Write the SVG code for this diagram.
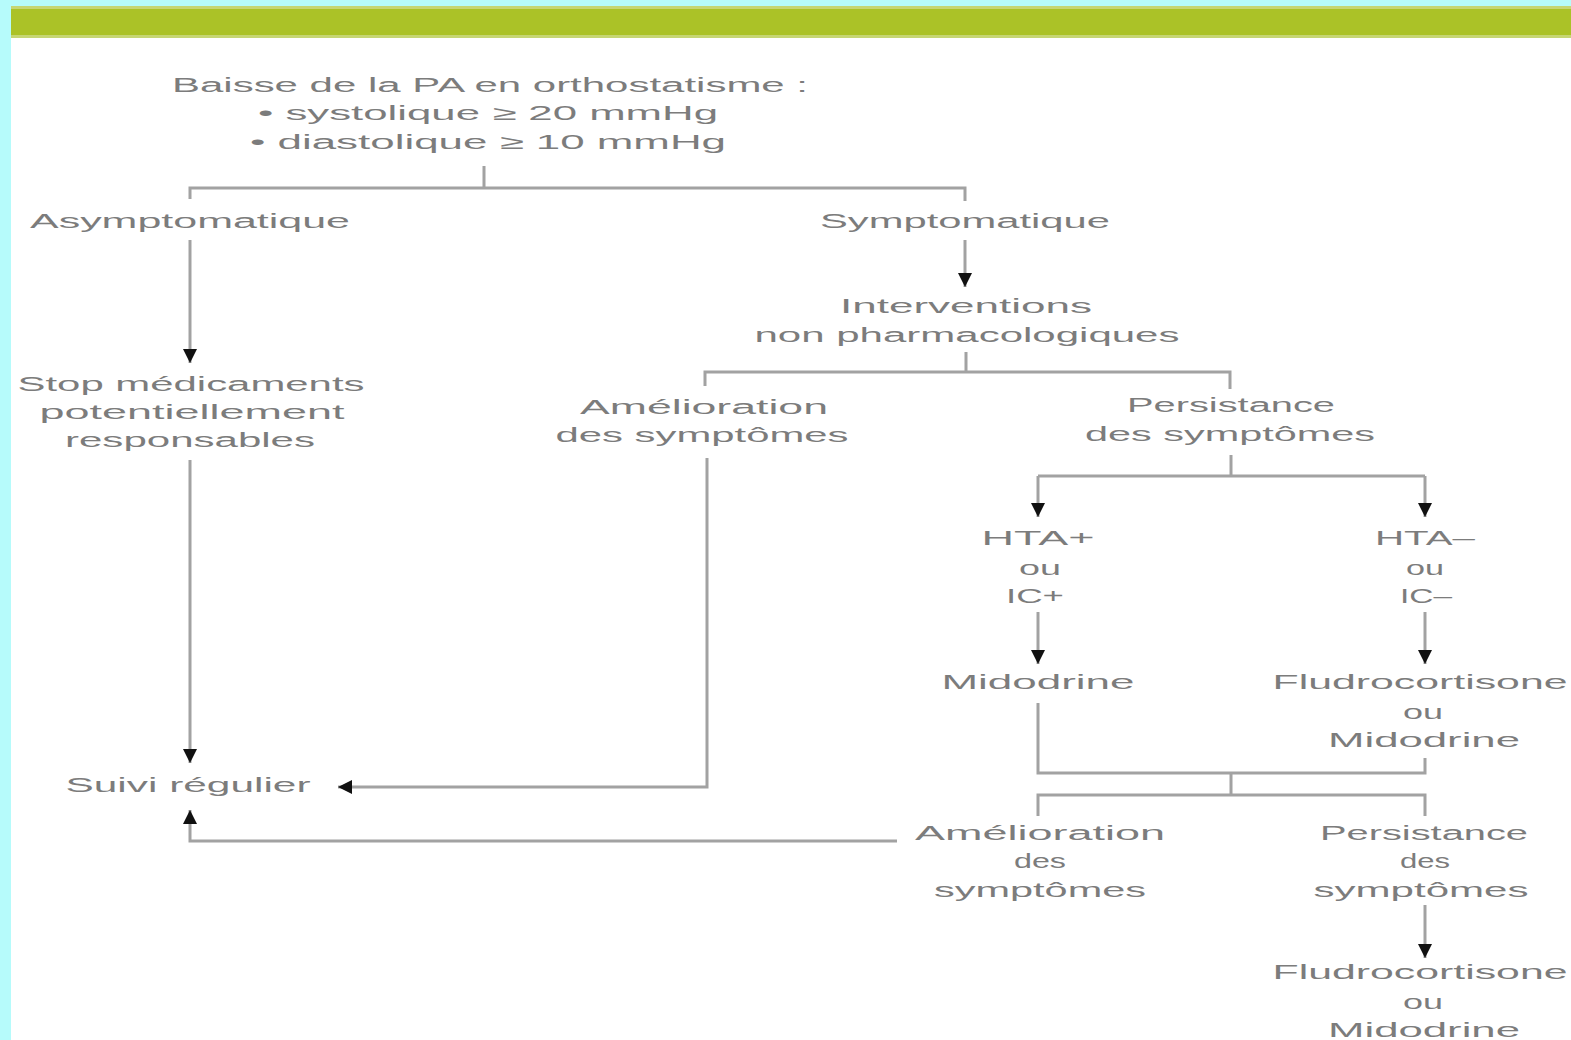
<svg xmlns="http://www.w3.org/2000/svg" width="1571" height="1040" viewBox="0 0 1571 1040">
<style>
text{font-family:"Liberation Sans",Arial,sans-serif;font-size:20px;fill:#7c7c7c;text-anchor:middle;}
.c{fill:none;stroke:#a2a2a2;stroke-width:3;}
</style>
<defs>
<marker id="ah" markerUnits="userSpaceOnUse" markerWidth="14" markerHeight="14" viewBox="0 0 12 12" refX="12" refY="6" orient="auto">
<path d="M0,0 L12,6 L0,12 Z" fill="#111"/>
</marker>
</defs>
<rect x="0" y="0" width="1571" height="1040" fill="#ffffff"/>
<rect x="0" y="0" width="1571" height="6" fill="#b6fbfb"/>
<rect x="0" y="0" width="11" height="1040" fill="#b6fbfb"/>
<rect x="11" y="6" width="1560" height="32" fill="#c6d673"/>
<rect x="11" y="9" width="1560" height="26" fill="#abc227"/>

<g id="connectors">
<path class="c" d="M484 166 V188 M190 199 V188 H965 V201"/>
<path class="c" d="M965 240 V287" marker-end="url(#ah)"/>
<path class="c" d="M190 240 V363" marker-end="url(#ah)"/>
<path class="c" d="M190 460 V763" marker-end="url(#ah)"/>
<path class="c" d="M966 352 V372 M705 386 V372 H1230 V389"/>
<path class="c" d="M707 458 V787 H338" marker-end="url(#ah)"/>
<path class="c" d="M897 841 H190 V810" marker-end="url(#ah)"/>
<path class="c" d="M1231 455 V476"/>
<path class="c" d="M1038 476 H1425"/>
<path class="c" d="M1038 476 V517" marker-end="url(#ah)"/>
<path class="c" d="M1425 476 V517" marker-end="url(#ah)"/>
<path class="c" d="M1038 612 V664" marker-end="url(#ah)"/>
<path class="c" d="M1425 612 V664" marker-end="url(#ah)"/>
<path class="c" d="M1038 703 V773 H1425 V758 M1231 773 V795 M1038 816 V795 H1425 V816"/>
<path class="c" d="M1425 905 V958" marker-end="url(#ah)"/>
</g>

<g id="n-title">
<text x="490" y="92" textLength="636" lengthAdjust="spacingAndGlyphs">Baisse de la PA en orthostatisme :</text>
<text x="488" y="120" textLength="460" lengthAdjust="spacingAndGlyphs">• systolique ≥ 20 mmHg</text>
<text x="488" y="149" textLength="476" lengthAdjust="spacingAndGlyphs">• diastolique ≥ 10 mmHg</text>
</g>
<g id="n-asympto">
<text x="190" y="228" textLength="320" lengthAdjust="spacingAndGlyphs">Asymptomatique</text>
</g>
<g id="n-sympto">
<text x="965" y="228" textLength="290" lengthAdjust="spacingAndGlyphs">Symptomatique</text>
</g>
<g id="n-interventions">
<text x="966" y="313" textLength="252" lengthAdjust="spacingAndGlyphs">Interventions</text>
<text x="967" y="342" textLength="425" lengthAdjust="spacingAndGlyphs">non pharmacologiques</text>
</g>
<g id="n-stop">
<text x="191" y="391" textLength="347" lengthAdjust="spacingAndGlyphs">Stop médicaments</text>
<text x="192" y="419" textLength="305" lengthAdjust="spacingAndGlyphs">potentiellement</text>
<text x="190" y="447" textLength="250" lengthAdjust="spacingAndGlyphs">responsables</text>
</g>
<g id="n-amelioration1">
<text x="704" y="414" textLength="248" lengthAdjust="spacingAndGlyphs">Amélioration</text>
<text x="702" y="442" textLength="293" lengthAdjust="spacingAndGlyphs">des symptômes</text>
</g>
<g id="n-persistance1">
<text x="1231" y="412" textLength="208" lengthAdjust="spacingAndGlyphs">Persistance</text>
<text x="1230" y="441" textLength="290" lengthAdjust="spacingAndGlyphs">des symptômes</text>
</g>
<g id="n-htaplus">
<text x="1038" y="545" textLength="113" lengthAdjust="spacingAndGlyphs">HTA+</text>
<text x="1040" y="575" textLength="42" lengthAdjust="spacingAndGlyphs">ou</text>
<text x="1035" y="603" textLength="58" lengthAdjust="spacingAndGlyphs">IC+</text>
</g>
<g id="n-htamoins">
<text x="1425" y="545" textLength="100" lengthAdjust="spacingAndGlyphs">HTA–</text>
<text x="1425" y="575" textLength="38" lengthAdjust="spacingAndGlyphs">ou</text>
<text x="1426" y="603" textLength="52" lengthAdjust="spacingAndGlyphs">IC–</text>
</g>
<g id="n-midodrine">
<text x="1038" y="689" textLength="193" lengthAdjust="spacingAndGlyphs">Midodrine</text>
</g>
<g id="n-fludro1">
<text x="1420" y="689" textLength="295" lengthAdjust="spacingAndGlyphs">Fludrocortisone</text>
<text x="1423" y="719" textLength="40" lengthAdjust="spacingAndGlyphs">ou</text>
<text x="1424" y="747" textLength="192" lengthAdjust="spacingAndGlyphs">Midodrine</text>
</g>
<g id="n-suivi">
<text x="188" y="792" textLength="245" lengthAdjust="spacingAndGlyphs">Suivi régulier</text>
</g>
<g id="n-amelioration2">
<text x="1040" y="840" textLength="250" lengthAdjust="spacingAndGlyphs">Amélioration</text>
<text x="1040" y="868" textLength="52" lengthAdjust="spacingAndGlyphs">des</text>
<text x="1040" y="897" textLength="212" lengthAdjust="spacingAndGlyphs">symptômes</text>
</g>
<g id="n-persistance2">
<text x="1424" y="840" textLength="208" lengthAdjust="spacingAndGlyphs">Persistance</text>
<text x="1425" y="868" textLength="50" lengthAdjust="spacingAndGlyphs">des</text>
<text x="1421" y="897" textLength="215" lengthAdjust="spacingAndGlyphs">symptômes</text>
</g>
<g id="n-fludro2">
<text x="1420" y="979" textLength="295" lengthAdjust="spacingAndGlyphs">Fludrocortisone</text>
<text x="1423" y="1009" textLength="40" lengthAdjust="spacingAndGlyphs">ou</text>
<text x="1424" y="1037" textLength="192" lengthAdjust="spacingAndGlyphs">Midodrine</text>
</g>
</svg>
